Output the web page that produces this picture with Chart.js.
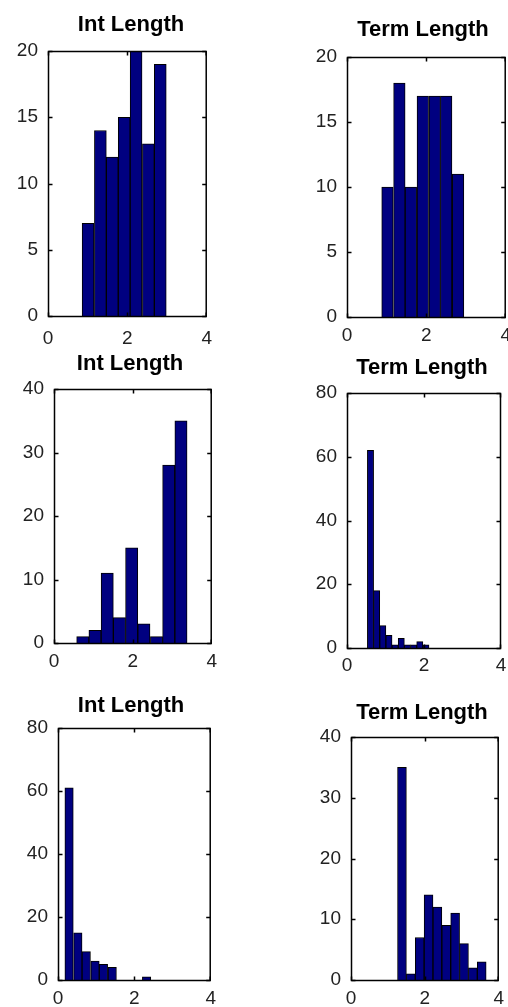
<!DOCTYPE html>
<html>
<head>
<meta charset="utf-8">
<script src="https://cdn.jsdelivr.net/npm/chart.js@4"></script>
<style>
  html, body { margin: 0; padding: 0; background: #fff; }
  #page { position: relative; width: 508px; height: 1007px; overflow: hidden; }
  #page canvas { position: absolute; }
</style>
</head>
<body>
<div id="page"></div>
<script>
// tick values
const xTickValues = [0, 2, 4];
const yTicks20 = [0, 5, 10, 15, 20];
const yTicks40 = [0, 10, 20, 30, 40];
const yTicks80 = [0, 20, 40, 60, 80];

// histogram bins (centers) and counts
const intLen1Centers = [1.01, 1.32, 1.62, 1.92, 2.22, 2.53, 2.83];
const intLen1Counts  = [7, 14, 12, 15, 20, 13, 19];

const termLen1Centers = [1.02, 1.32, 1.61, 1.91, 2.21, 2.50, 2.80];
const termLen1Counts  = [10, 18, 10, 17, 17, 17, 11];

const intLen2Centers = [0.73, 1.04, 1.35, 1.66, 1.97, 2.28, 2.60, 2.91, 3.22];
const intLen2Counts  = [1, 2, 11, 4, 15, 3, 1, 28, 35];

const termLen2Centers = [0.61, 0.77, 0.93, 1.09, 1.25, 1.41, 1.57, 1.73, 1.89, 2.05];
const termLen2Counts  = [62, 18, 7, 4, 1, 3, 1, 1, 2, 1];

const intLen3Centers = [0.29, 0.52, 0.74, 0.97, 1.19, 1.42, 2.32];
const intLen3Counts  = [61, 15, 9, 6, 5, 4, 1];

const termLen3Centers = [1.38, 1.62, 1.86, 2.10, 2.34, 2.58, 2.82, 3.06, 3.30, 3.54];
const termLen3Counts  = [35, 1, 7, 14, 12, 9, 11, 6, 2, 3];

// room around each axes box inside its canvas
const PAD_L = 50, PAD_T = 45, PAD_R = 12, PAD_B = 45;

// box = [left, top, right, bottom] of the axes frame on the page
const panels = [
  { title: "Int Length",  centers: intLen1Centers,  counts: intLen1Counts,  yTicks: yTicks20, box: [48, 51, 211, 316],  titleX: 131, titleGap: 20, xPad: 11 },
  { title: "Term Length", centers: termLen1Centers, counts: termLen1Counts, yTicks: yTicks20, box: [347, 57, 506, 317], titleX: 423, titleGap: 21, xPad: 7 },
  { title: "Int Length",  centers: intLen2Centers,  counts: intLen2Counts,  yTicks: yTicks40, box: [54, 389, 212, 643], titleX: 130, titleGap: 19, xPad: 7 },
  { title: "Term Length", centers: termLen2Centers, counts: termLen2Counts, yTicks: yTicks80, box: [347, 393, 501, 648], titleX: 422, titleGap: 19, xPad: 6 },
  { title: "Int Length",  centers: intLen3Centers,  counts: intLen3Counts,  yTicks: yTicks80, box: [58, 728, 211, 980], titleX: 131, titleGap: 16, xPad: 7 },
  { title: "Term Length", centers: termLen3Centers, counts: termLen3Counts, yTicks: yTicks40, box: [351, 737, 499, 980], titleX: 422, titleGap: 18, xPad: 7 }
];

const tickFont = { family: "'Liberation Sans', Arial, sans-serif", size: 19 };

// matlab-ish frame: full box, ticks pointing inward, bold title on top
const framePlugin = {
  id: "frame",
  afterDatasetsDraw(chart, args, opts) {
    const { ctx, chartArea: a, scales } = chart;
    const tl = 4;
    const x0 = a.left + 0.5, x1 = a.right - 0.5;
    const y0 = a.top + 0.5, y1 = a.bottom + 0.5;
    ctx.save();
    ctx.strokeStyle = "#000";
    ctx.lineWidth = 1.5;
    ctx.beginPath();
    scales.x.ticks.forEach((t) => {
      const px = Math.min(x1, Math.max(x0, Math.round(scales.x.getPixelForValue(t.value)) + 0.5));
      ctx.moveTo(px, y1); ctx.lineTo(px, y1 - tl);
      ctx.moveTo(px, y0); ctx.lineTo(px, y0 + tl);
    });
    scales.y.ticks.forEach((t) => {
      const py = Math.min(y1, Math.max(y0, Math.round(scales.y.getPixelForValue(t.value)) + 0.5));
      ctx.moveTo(x0, py); ctx.lineTo(x0 + tl, py);
      ctx.moveTo(x1, py); ctx.lineTo(x1 - tl, py);
    });
    ctx.stroke();
    ctx.strokeRect(x0, y0, x1 - x0, y1 - y0);

    ctx.fillStyle = "#000";
    ctx.font = "bold 22px 'Liberation Sans', Arial, sans-serif";
    ctx.textAlign = "center";
    ctx.textBaseline = "alphabetic";
    ctx.fillText(opts.title, opts.titleX, a.top - opts.titleGap);
    ctx.restore();
  }
};

const page = document.getElementById("page");

panels.forEach((p) => {
  const [l, t, r, b] = p.box;
  const canvas = document.createElement("canvas");
  canvas.width = r - l + PAD_L + PAD_R;
  canvas.height = b - t + PAD_T + PAD_B;
  canvas.style.left = (l - PAD_L) + "px";
  canvas.style.top = (t - PAD_T) + "px";
  page.appendChild(canvas);

  const points = p.centers.map((c, i) => ({ x: c, y: p.counts[i] }));
  const yMax = p.yTicks[p.yTicks.length - 1];

  new Chart(canvas.getContext("2d"), {
    type: "bar",
    data: {
      datasets: [{
        data: points,
        backgroundColor: "#000080",
        borderColor: "#000",
        borderWidth: 1,
        barPercentage: 1,
        categoryPercentage: 1
      }]
    },
    options: {
      responsive: false,
      animation: false,
      devicePixelRatio: 1,
      layout: { padding: { left: 0, top: PAD_T, right: PAD_R, bottom: 0 } },
      plugins: {
        legend: { display: false },
        tooltip: { enabled: false },
        frame: { title: p.title, titleX: p.titleX - (l - PAD_L), titleGap: p.titleGap }
      },
      scales: {
        x: {
          type: "linear",
          min: 0,
          max: 4,
          offset: false,
          grid: { display: false, drawTicks: false },
          border: { display: false },
          afterBuildTicks: (s) => { s.ticks = xTickValues.map((v) => ({ value: v })); },
          afterFit: (s) => { s.height = PAD_B; },
          ticks: { color: "#222", font: tickFont, padding: p.xPad, maxRotation: 0, autoSkip: false }
        },
        y: {
          type: "linear",
          min: 0,
          max: yMax,
          grid: { display: false, drawTicks: false },
          border: { display: false },
          afterBuildTicks: (s) => { s.ticks = p.yTicks.map((v) => ({ value: v })); },
          afterFit: (s) => { s.width = PAD_L; },
          ticks: { color: "#222", font: tickFont, padding: 10 }
        }
      }
    },
    plugins: [framePlugin]
  });
});
</script>
</body>
</html>
